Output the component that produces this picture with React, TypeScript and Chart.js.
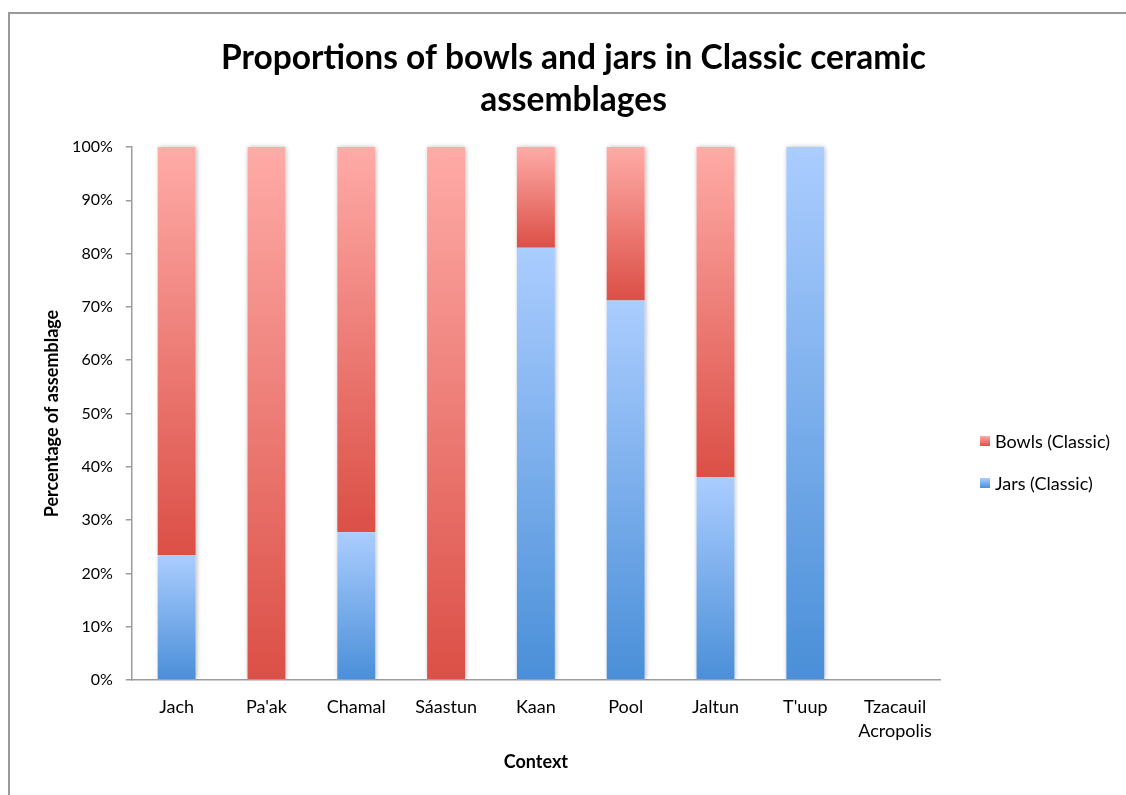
import React, { useEffect, useRef } from "react";
import { Chart, registerables, layouts } from "chart.js";

Chart.register(...registerables);

// Sites / contexts along the x axis
const contexts: (string | string[])[] = [
  "Jach",
  "Pa'ak",
  "Chamal",
  "Sáastun",
  "Kaan",
  "Pool",
  "Jaltun",
  "T'uup",
  ["Tzacauil", "Acropolis"],
];

// Share of each assemblage (%)
const jarsClassic = [23.4, 0, 27.7, 0, 81.1, 71.2, 38.1, 100, 0];
const bowlsClassic = [76.6, 100, 72.3, 100, 18.9, 28.8, 61.9, 0, 0];

const percentTicks = [0, 10, 20, 30, 40, 50, 60, 70, 80, 90, 100];

const chartTitle = ["Proportions of bowls and jars in Classic ceramic", "assemblages"];

const FONT = "Lato, 'Open Sans', sans-serif";
const AXIS_GREY = "#9c9c9c";

// [bottom colour, top colour] of each segment's vertical gradient
const JARS_STOPS: [string, string] = ["#4a8fd8", "#abcdff"];
const BOWLS_STOPS: [string, string] = ["#db4f46", "#ffaba7"];

// Fill a stacked segment with a gradient spanning only that segment
function segmentFill(stops: [string, string]) {
  return (c: any) => {
    const chart = c.chart;
    const yScale = chart.scales?.y;
    if (c.type !== "data" || !yScale || !chart.chartArea) return stops[0];
    const ds = chart.data.datasets;
    let start = 0;
    for (let d = 0; d < c.datasetIndex; d++) start += Number(ds[d].data[c.dataIndex]) || 0;
    const end = start + (Number(ds[c.datasetIndex].data[c.dataIndex]) || 0);
    const yBottom = yScale.getPixelForValue(start);
    const yTop = yScale.getPixelForValue(end);
    if (!isFinite(yBottom) || !isFinite(yTop) || Math.abs(yBottom - yTop) < 0.5) return stops[0];
    const g = chart.ctx.createLinearGradient(0, yBottom, 0, yTop);
    g.addColorStop(0, stops[0]);
    g.addColorStop(1, stops[1]);
    return g;
  };
}

// Soft drop shadow behind each full stacked column
const columnShadow = {
  id: "columnShadow",
  beforeDatasetsDraw(chart: any) {
    const { ctx, chartArea } = chart;
    const metas = chart.data.datasets.map((_: any, i: number) => chart.getDatasetMeta(i));
    const count = chart.data.labels.length;
    ctx.save();
    ctx.beginPath();
    ctx.rect(chartArea.left, chartArea.top - 10, chartArea.right - chartArea.left, chartArea.bottom - chartArea.top + 10);
    ctx.clip();
    ctx.shadowColor = "rgba(0,0,0,0.32)";
    ctx.shadowBlur = 5;
    ctx.shadowOffsetX = 1;
    ctx.shadowOffsetY = 0;
    ctx.fillStyle = "#ffffff";
    for (let i = 0; i < count; i++) {
      let top = Infinity;
      let bottom = -Infinity;
      let x = 0;
      let w = 0;
      metas.forEach((m: any) => {
        const el = m.data[i];
        if (!el) return;
        const p = el.getProps(["x", "y", "base", "width"], true);
        if (Math.abs(p.base - p.y) < 0.5) return;
        top = Math.min(top, p.y, p.base);
        bottom = Math.max(bottom, p.y, p.base);
        x = p.x;
        w = p.width;
      });
      if (top < bottom) ctx.fillRect(x - w / 2, top, w, bottom - top);
    }
    ctx.restore();
  },
};

// Legend column on the right of the plot, top segment listed first
class SideLegendBox {
  chart: any;
  options: any = { stackWeight: 1 };
  position = "right";
  weight = 1000;
  fullSize = false;
  left = 0;
  top = 0;
  right = 0;
  bottom = 0;
  width = 0;
  height = 0;
  constructor(chart: any) {
    this.chart = chart;
  }
  isHorizontal() {
    return false;
  }
  update(_maxWidth: number, maxHeight: number) {
    this.width = 166;
    this.height = maxHeight;
  }
  draw() {
    const { ctx } = this.chart;
    const items = this.chart.data.datasets
      .map((ds: any) => ({ label: ds.label, stops: ds.legendStops as [string, string] }))
      .reverse();
    const boxX = this.left + 40;
    let cy = this.top + 294;
    ctx.save();
    ctx.font = `18px ${FONT}`;
    ctx.textBaseline = "middle";
    ctx.textAlign = "left";
    items.forEach((it: any) => {
      const g = ctx.createLinearGradient(0, cy + 5, 0, cy - 5);
      g.addColorStop(0, it.stops[0]);
      g.addColorStop(1, it.stops[1]);
      ctx.fillStyle = g;
      ctx.fillRect(boxX, cy - 5, 10, 10);
      ctx.fillStyle = "#000000";
      ctx.fillText(it.label, boxX + 15, cy + 1);
      cy += 42;
    });
    ctx.restore();
  }
}

const sideLegend = {
  id: "sideLegend",
  beforeInit(chart: any) {
    layouts.addBox(chart, new SideLegendBox(chart) as any);
  },
};

export default function App() {
  const canvasRef = useRef<HTMLCanvasElement | null>(null);

  useEffect(() => {
    if (!canvasRef.current) return;
    Chart.defaults.font.family = FONT;
    const chart = new Chart(canvasRef.current, {
      type: "bar",
      data: {
        labels: contexts,
        datasets: [
          {
            label: "Jars (Classic)",
            data: jarsClassic,
            backgroundColor: segmentFill(JARS_STOPS),
            borderWidth: 0,
            legendStops: JARS_STOPS,
          } as any,
          {
            label: "Bowls (Classic)",
            data: bowlsClassic,
            backgroundColor: segmentFill(BOWLS_STOPS),
            borderWidth: 0,
            legendStops: BOWLS_STOPS,
          } as any,
        ],
      },
      options: {
        responsive: false,
        animation: false,
        devicePixelRatio: 1,
        layout: { padding: { left: 41, right: 20, top: 37, bottom: 22 } },
        datasets: { bar: { categoryPercentage: 1, barPercentage: 0.423 } },
        plugins: {
          legend: { display: false },
          tooltip: { enabled: false },
          title: {
            display: true,
            text: chartTitle,
            color: "#000000",
            font: { size: 33.5, weight: "bold", lineHeight: 42 / 33.5 },
            padding: { top: 0, bottom: 26 },
          },
        },
        scales: {
          x: {
            stacked: true,
            grid: { display: false, drawTicks: false },
            border: { display: true, color: AXIS_GREY, width: 1.5 },
            ticks: {
              color: "#000000",
              padding: 15,
              font: { size: 18, lineHeight: 24 / 18 },
              maxRotation: 0,
              autoSkip: false,
            },
            title: {
              display: true,
              text: "Context",
              color: "#000000",
              font: { size: 18, weight: "bold" },
              padding: { top: -6.6, bottom: 0 },
            },
          },
          y: {
            stacked: true,
            min: 0,
            max: 100,
            afterBuildTicks: (scale: any) => {
              scale.ticks = percentTicks.map((v) => ({ value: v }));
            },
            grid: {
              display: true,
              drawOnChartArea: false,
              drawTicks: true,
              tickLength: 6,
              color: AXIS_GREY,
              lineWidth: 1.5,
            },
            border: { display: true, color: AXIS_GREY, width: 1.5 },
            ticks: {
              color: "#000000",
              padding: 13,
              font: { size: 16 },
              callback: (v: any) => `${v}%`,
            },
            title: {
              display: true,
              text: "Percentage of assemblage",
              color: "#000000",
              font: { size: 18, weight: "bold" },
              padding: { top: 0, bottom: -3.5 },
            },
          },
        },
      },
      plugins: [columnShadow, sideLegend],
    });
    return () => chart.destroy();
  }, []);

  return (
    <div
      style={{
        position: "fixed",
        left: 0,
        top: 0,
        width: 1126,
        height: 795,
        overflow: "hidden",
        background: "#ffffff",
      }}
    >
      <div
        style={{
          position: "absolute",
          left: 8,
          top: 12,
          width: 1300,
          height: 1000,
          border: "2px solid #999999",
          boxSizing: "border-box",
        }}
      />
      <canvas
        ref={canvasRef}
        width={1126}
        height={795}
        style={{ position: "absolute", left: 0, top: 0, width: 1126, height: 795 }}
      />
    </div>
  );
}
